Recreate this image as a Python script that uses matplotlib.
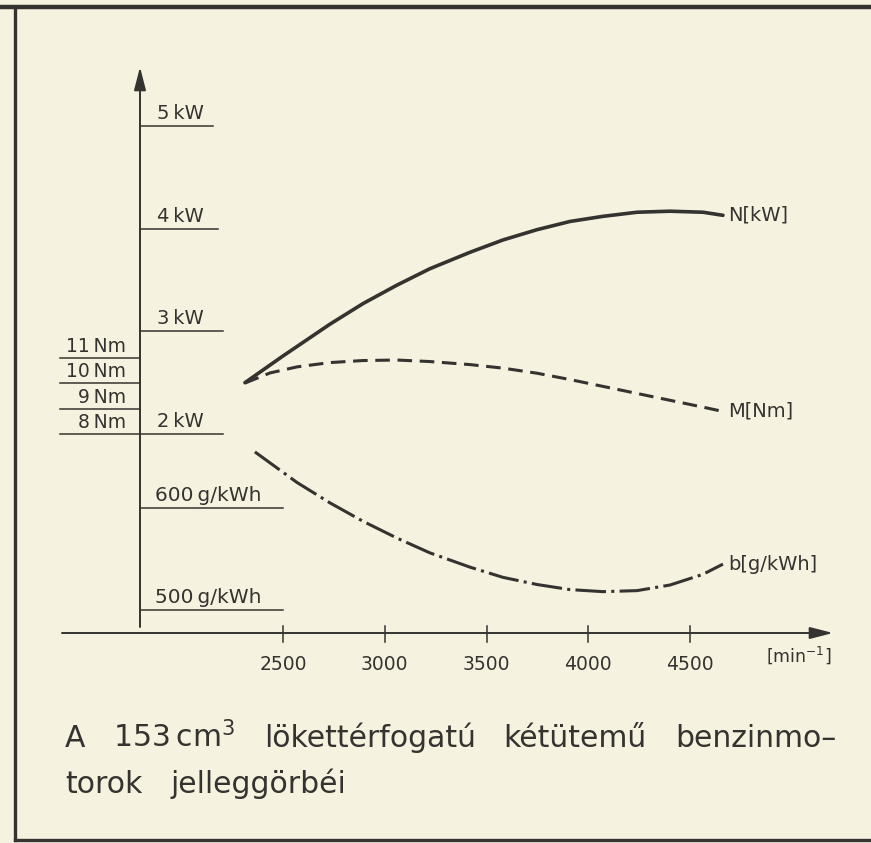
import matplotlib
matplotlib.use("Agg")
import matplotlib.pyplot as plt
import matplotlib.transforms as mtransforms

# ---------------- data ----------------
rpm_ticks = [2500, 3000, 3500, 4000, 4500]
kw_ticks = [2, 3, 4, 5]
nm_ticks = [8, 9, 10, 11]
b_ticks = [500, 600]

# N [kW] (solid)
n_rpm = [2313, 2500, 2731, 2893, 3060, 3222, 3419, 3581, 3748, 3910, 4072, 4240, 4402, 4564, 4662]
n_kw = [2.50, 2.76, 3.07, 3.27, 3.45, 3.61, 3.77, 3.89, 3.99, 4.07, 4.12, 4.16, 4.17, 4.16, 4.13]

# M [Nm] (dashed)
m_rpm = [2313, 2436, 2569, 2731, 2893, 3060, 3222, 3419, 3581, 3748, 3910, 4072, 4240, 4402, 4564, 4662]
m_nm = [10.01, 10.41, 10.65, 10.82, 10.90, 10.92, 10.86, 10.74, 10.60, 10.40, 10.15, 9.88, 9.60, 9.33, 9.06, 8.89]

# b [g/kWh] (dash-dot)
b_rpm = [2362, 2569, 2731, 2893, 3060, 3222, 3419, 3581, 3748, 3910, 4072, 4240, 4402, 4564, 4662]
b_val = [655, 625, 605, 587, 570.5, 556, 542, 532, 525, 520, 518, 519, 524.5, 535, 545]

curve_labels = ["N[kW]", "M[Nm]", "b[g/kWh]"]
title_words = [["A", "153\u2009cm$^3$", "lökettérfogatú", "kétütemű", "benzinmo\u2013"],
               ["torok", "jelleggörbéi"]]

# ---------------- style / layout ----------------
W, H, DPI = 871, 843, 100
PAPER = "#f6f2e0"
INK = "#34332f"

plt.rcParams['font.family'] = ['DejaVu Sans']
plt.rcParams['mathtext.fontset'] = 'dejavusans'
plt.rcParams['lines.scale_dashes'] = False

fig = plt.figure(figsize=(W / DPI, H / DPI), dpi=DPI, facecolor=PAPER)

# pixel geometry of the scales
PX_2500, PX_PER_RPM = 283.0, 407.0 / 2000.0


def rpm_at(px):
    return 2500.0 + (px - PX_2500) / PX_PER_RPM


def lims(v0, py0, ppu):
    return (v0 - (H - py0) / ppu, v0 + py0 / ppu)


ax = fig.add_axes([0, 0, 1, 1])
ax.set_xlim(rpm_at(0), rpm_at(W))
ax.set_ylim(*lims(2, 434, 102.67))
axm = ax.twinx()
axm.set_ylim(*lims(8, 434, 25.33))
axb = ax.twinx()
axb.set_ylim(*lims(600, 508, 1.02))
for a in (ax, axm, axb):
    a.set_axis_off()
    a.patch.set_visible(False)


def fy(py):
    return 1 - py / H


def fx(px):
    return px / W


TF = fig.transFigure
# frame of the printed figure
ax.plot([0, 1], [fy(7), fy(7)], transform=TF, color=INK, lw=3.2, clip_on=False)
ax.plot([fx(15), fx(15)], [fy(7), fy(840)], transform=TF, color=INK, lw=2.4, clip_on=False)
ax.plot([fx(15), 1], [fy(840), fy(840)], transform=TF, color=INK, lw=2.4, clip_on=False)

# axes with arrows
arrow = dict(arrowstyle='-|>,head_length=0.7,head_width=0.18', color=INK, lw=1.4,
             mutation_scale=20, shrinkA=0, shrinkB=0)
ax.annotate('', xy=(fx(833), fy(633)), xytext=(fx(62), fy(633)),
            xycoords='figure fraction', textcoords='figure fraction', arrowprops=arrow)
ax.annotate('', xy=(fx(140), fy(67)), xytext=(fx(140), fy(627)),
            xycoords='figure fraction', textcoords='figure fraction', arrowprops=arrow)

# x ticks
bx = mtransforms.blended_transform_factory(ax.transData, TF)
for r in rpm_ticks:
    ax.plot([r, r], [fy(626), fy(642)], transform=bx, color=INK, lw=1.1)
    ax.text(r, fy(664), str(r), transform=bx, ha='center', va='center',
            fontsize=13.5, color=INK)
ax.text(fx(766), fy(655), "[min$^{-1}$]", transform=TF, ha='left', va='center',
        fontsize=12.5, color=INK)

# kW reference lines
bk = mtransforms.blended_transform_factory(TF, ax.transData)
bk_up = mtransforms.offset_copy(bk, fig=fig, y=3, units='dots')
kw_right = [223, 223, 218, 213]
for v, xr in zip(kw_ticks, kw_right):
    ax.plot([fx(140), fx(xr)], [v, v], transform=bk, color=INK, lw=1.1)
    ax.text(fx(157), v, f"{v}\u2009kW", transform=bk_up, ha='left', va='bottom',
            fontsize=14, color=INK)

# Nm reference lines
bm = mtransforms.blended_transform_factory(TF, axm.transData)
bm_up = mtransforms.offset_copy(bm, fig=fig, y=2, units='dots')
for v in nm_ticks:
    axm.plot([fx(60), fx(140)], [v, v], transform=bm, color=INK, lw=1.1)
    axm.text(fx(126), v, f"{v}\u2009Nm", transform=bm_up, ha='right', va='bottom',
             fontsize=13.5, color=INK)

# g/kWh reference lines
bb = mtransforms.blended_transform_factory(TF, axb.transData)
bb_up = mtransforms.offset_copy(bb, fig=fig, y=3, units='dots')
for v in b_ticks:
    axb.plot([fx(140), fx(283)], [v, v], transform=bb, color=INK, lw=1.1)
    axb.text(fx(155), v, f"{v}\u2009g/kWh", transform=bb_up, ha='left', va='bottom',
             fontsize=14.5, color=INK)

# curves
ax.plot(n_rpm, n_kw, color=INK, lw=2.6, solid_capstyle='round', solid_joinstyle='round')
axm.plot(m_rpm, m_nm, color=INK, lw=2.2, dashes=(10.5, 5.5), dash_capstyle='butt')
axb.plot(b_rpm, b_val, color=INK, lw=2.2, dashes=(22, 3.8, 2.2, 3.8), dash_capstyle='butt')

for a, xs, ys, lab in ((ax, n_rpm, n_kw, curve_labels[0]),
                       (axm, m_rpm, m_nm, curve_labels[1]),
                       (axb, b_rpm, b_val, curve_labels[2])):
    a.annotate(lab, xy=(xs[-1], ys[-1]), xytext=(4, 0), textcoords='offset points',
               ha='left', va='center', fontsize=14, color=INK)

# caption, justified like the print
renderer = fig.canvas.get_renderer()
left, right = 65, 836
baselines = [747, 793]
line_texts = []
for words, yb in zip(title_words, baselines):
    ts = [fig.text(0, fy(yb), w, ha='left', va='baseline', fontsize=21.5, color=INK)
          for w in words]
    line_texts.append(ts)
widths1 = [t.get_window_extent(renderer).width for t in line_texts[0]]
gap = max(12, (right - left - sum(widths1)) / (len(widths1) - 1))
for ts in line_texts:
    x = left
    for t in ts:
        t.set_x(fx(x))
        x += t.get_window_extent(renderer).width + gap

fig.savefig("out.png", dpi=DPI, facecolor=PAPER)
